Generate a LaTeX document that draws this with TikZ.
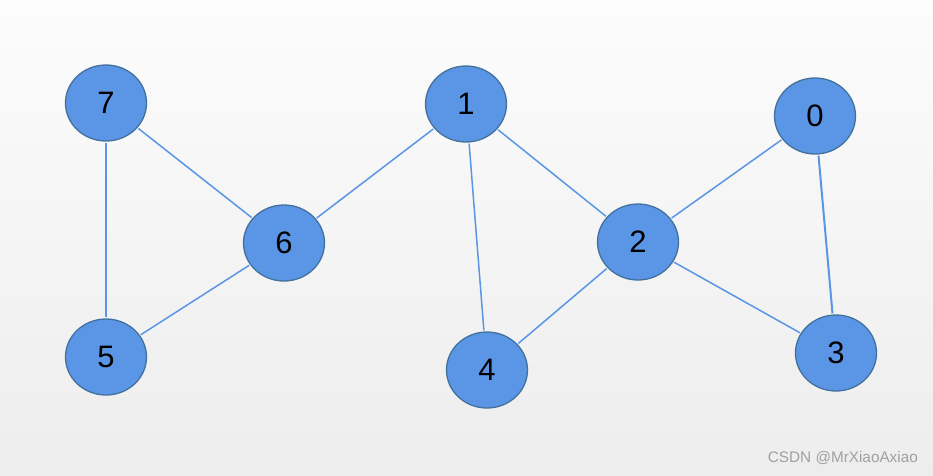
\documentclass[tikz,border=0pt]{standalone}
\usepackage{fontspec}
\setmainfont{Liberation Sans}
\usetikzlibrary{shapes.geometric}
\definecolor{nodefill}{HTML}{5B95E6}
\definecolor{nodeline}{HTML}{41719C}
\definecolor{edgecol}{HTML}{5B95E6}
\definecolor{bgtop}{HTML}{FCFCFC}
\definecolor{bgbot}{HTML}{EDEDED}
\definecolor{wm}{HTML}{A0A0A0}
\tikzset{
  vert/.style={ellipse, draw=nodeline, fill=nodefill, line width=1.3pt,
    minimum width=81pt, minimum height=76pt, inner sep=0pt,
    font=\fontsize{31}{31}\selectfont, text=black},
  edge/.style={draw=edgecol, line width=1.5pt}
}
\begin{document}
\begin{tikzpicture}[x=1pt,y=-1pt]
\shade[top color=bgtop, bottom color=bgbot] (0,0) rectangle (933,475);
\useasboundingbox (0,0) rectangle (933,475);
\node[vert] (n7) at (106,103) {7};
\node[vert] (n1) at (466,104) {1};
\node[vert] (n0) at (815,116) {0};
\node[vert] (n6) at (284,243) {6};
\node[vert] (n2) at (638,242) {2};
\node[vert] (n5) at (106,357) {5};
\node[vert] (n4) at (487,370) {4};
\node[vert] (n3) at (836,353) {3};
\begin{scope}[shorten >=1pt, shorten <=1pt]
\draw[edge] (n7) -- (n6);
\draw[edge] (n7) -- (n5);
\draw[edge] (n6) -- (n5);
\draw[edge] (n6) -- (n1);
\draw[edge] (n1) -- (n4);
\draw[edge] (n1) -- (n2);
\draw[edge] (n2) -- (n0);
\draw[edge] (n2) -- (n4);
\draw[edge] (n2) -- (n3);
\draw[edge, line width=2pt] (n0) -- (n3);
\end{scope}
\node[text=wm, font=\fontsize{15.3}{15.3}\selectfont, anchor=east, inner sep=0pt] (wmk) at (918,458) {CSDN @MrXiaoAxiao};
\end{tikzpicture}
\end{document}
